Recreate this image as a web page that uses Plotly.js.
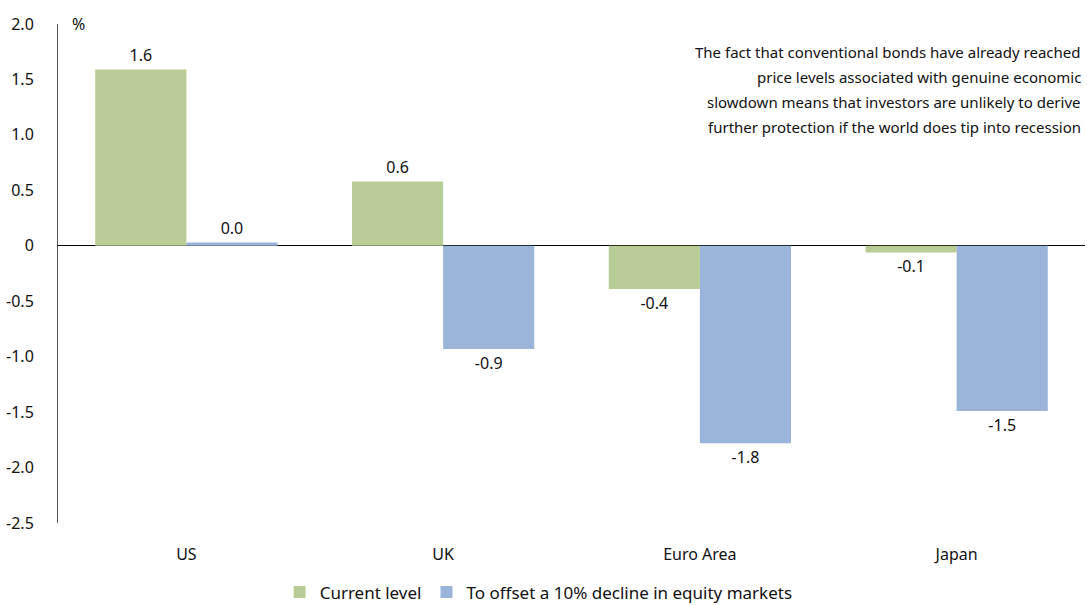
<!DOCTYPE html>
<html>
<head>
<meta charset="utf-8">
<script src="https://cdn.plot.ly/plotly-3.0.1.min.js"></script>
<style>html,body{margin:0;padding:0;background:#fff;}#chart{width:1087px;height:605px;}</style>
</head>
<body>
<div id="chart"></div>
<script>
const categories = ["US", "UK", "Euro Area", "Japan"];
const currentLevel = [1.59, 0.58, -0.39, -0.06];
const offsetDecline = [0.03, -0.93, -1.78, -1.49];
const seriesNames = ["Current level", "To offset a 10% decline in equity markets"];
const yTickVals = [2.0, 1.5, 1.0, 0.5, 0, -0.5, -1.0, -1.5, -2.0, -2.5];
const yTickText = ["2.0", "1.5", "1.0", "0.5", "0", "-0.5", "-1.0", "-1.5", "-2.0", "-2.5"];
const noteLines = [
  "The fact that conventional bonds have already reached",
  "price levels associated with genuine economic",
  "slowdown means that investors are unlikely to derive",
  "further protection if the world does tip into recession"
];

const FONT = "Noto Sans, Open Sans, sans-serif";

const traces = [
  {
    type: "bar", name: seriesNames[0], x: categories, y: currentLevel,
    marker: {color: "#b8cd95"},
    texttemplate: "%{y:.1f}", textposition: "outside", cliponaxis: false,
    textfont: {family: FONT, size: 16, color: "#111"}
  },
  {
    type: "bar", name: seriesNames[1], x: categories, y: offsetDecline,
    marker: {color: "#9bb4d9"},
    texttemplate: "%{y:.1f}", textposition: "outside", cliponaxis: false,
    textfont: {family: FONT, size: 16, color: "#111"}
  }
];

const noteAnnotations = noteLines.map((line, i) => ({
  xref: "paper", yref: "paper", x: 0.998, y: 1.0, yshift: -28 - 25 * i,
  xanchor: "right", yanchor: "middle", align: "right",
  text: line, showarrow: false,
  font: {family: FONT, size: 15, color: "#111"}
}));

const layout = {
  width: 1087, height: 605,
  margin: {l: 58, r: 2, t: 24, b: 82, autoexpand: false},
  paper_bgcolor: "#fff", plot_bgcolor: "#fff",
  font: {family: FONT, size: 16, color: "#111"},
  barmode: "group", bargap: 0.29, bargroupgap: 0,
  showlegend: true,
  legend: {orientation: "h", x: 0.468, xanchor: "center", y: -0.103, yanchor: "top",
           font: {family: FONT, size: 17, color: "#111"}, itemwidth: 30, traceorder: "normal"},
  xaxis: {
    showgrid: false, zeroline: false, showline: false, ticks: "",
    ticklabelstandoff: 20, tickfont: {family: FONT, size: 16, color: "#111"}
  },
  yaxis: {
    range: [-2.5, 2.0], tickvals: yTickVals, ticktext: yTickText,
    showgrid: false, zeroline: true, zerolinecolor: "#000", zerolinewidth: 1,
    showline: true, linecolor: "#555", linewidth: 1, ticks: "",
    ticklabelstandoff: 20, tickfont: {family: FONT, size: 16, color: "#111"}
  },
  annotations: [
    {xref: "paper", yref: "paper", x: 0.012, y: 1.0, xanchor: "left", yanchor: "middle",
     text: "%", showarrow: false, font: {family: FONT, size: 16, color: "#111"}}
  ].concat(noteAnnotations)
};

Plotly.newPlot("chart", traces, layout, {displayModeBar: false, staticPlot: true});
</script>
</body>
</html>
